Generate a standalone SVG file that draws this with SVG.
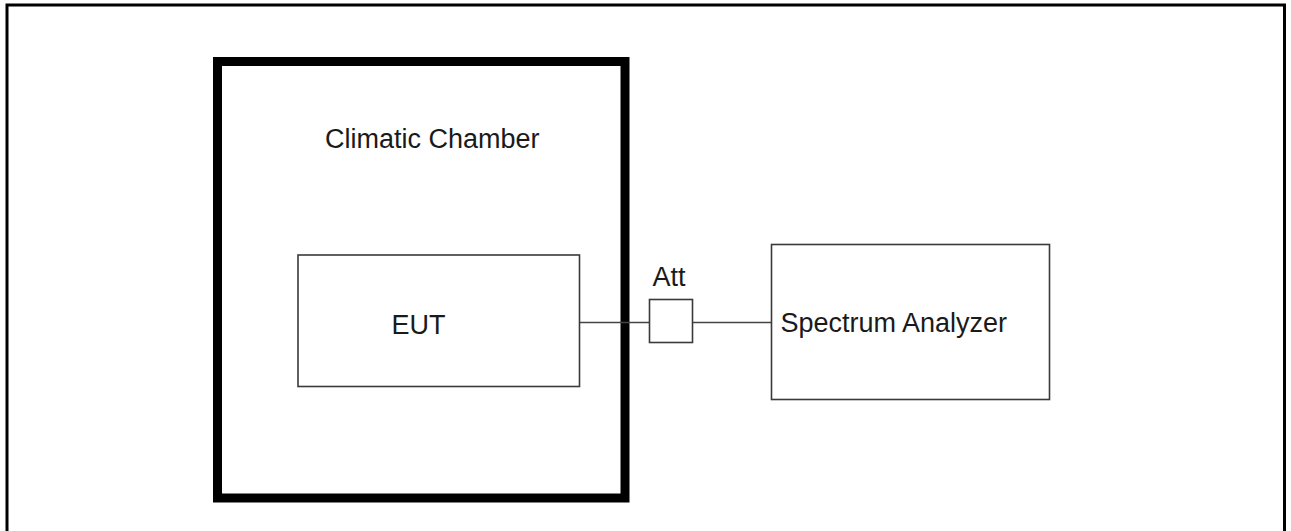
<svg xmlns="http://www.w3.org/2000/svg" width="1291" height="531" viewBox="0 0 1291 531">
<style>
text{font-family:"Liberation Sans",Arial,sans-serif;font-size:27px;fill:#1a1a1a}
.box{fill:#fff;stroke:#3a3a3a;stroke-width:1.6}
.wire{stroke:#444;stroke-width:1.6;fill:none}
</style>
<rect width="1291" height="531" fill="#fff"/>
<rect id="frame" x="7" y="5" width="1277.5" height="540" fill="none" stroke="#000" stroke-width="3"/>
<g id="chamber">
<rect x="217.5" y="61.5" width="407.5" height="436.5" fill="none" stroke="#000" stroke-width="9"/>
<text x="325" y="148">Climatic Chamber</text>
</g>
<g id="connectors">
<line class="wire" x1="580" y1="322.5" x2="649.5" y2="322.5"/>
<line class="wire" x1="692.5" y1="322.5" x2="771.5" y2="322.5"/>
</g>
<g id="eut">
<rect class="box" x="298" y="255" width="281.5" height="131.5"/>
<text x="391.5" y="334">EUT</text>
</g>
<g id="att">
<rect class="box" x="649.5" y="299.5" width="43" height="43"/>
<text x="652.5" y="285.5">Att</text>
</g>
<g id="analyzer">
<rect class="box" x="771.5" y="244.5" width="278" height="155"/>
<text x="780.5" y="332">Spectrum Analyzer</text>
</g>
</svg>
